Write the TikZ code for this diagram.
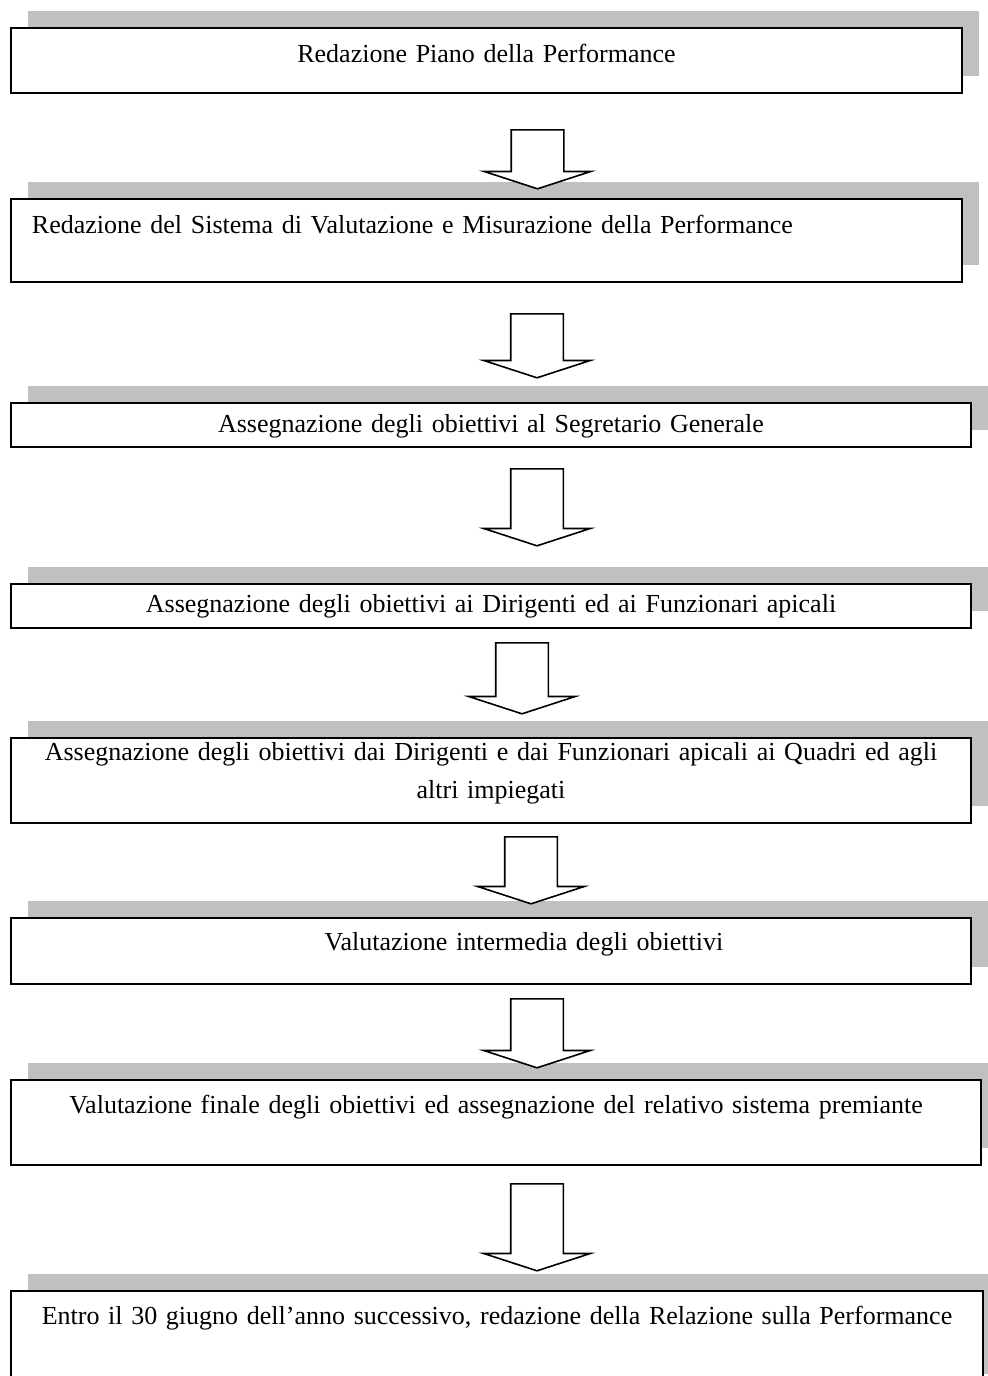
\documentclass[tikz,border=0pt]{standalone}
\usepackage{fontspec}
\setmainfont{Liberation Serif}
\usetikzlibrary{shapes.arrows,shadows}
\definecolor{shadegray}{HTML}{C0C0C0}
\tikzset{
  stepbox/.style={draw, line width=1pt, fill=white, inner sep=0pt, anchor=north west, align=center,
    font=\fontsize{13pt}{19pt}\selectfont,
    drop shadow={shadow xshift=8.5pt, shadow yshift=8.5pt, fill=shadegray, opacity=1}},
  downarrow/.style={single arrow, draw, line width=0.8pt, fill=white, rotate=-90, anchor=tail,
    inner xsep=0pt, inner ysep=12.75pt, single arrow head extend=13.5pt, single arrow tip angle=144}
}

\begin{document}
\begin{tikzpicture}[x=0.5pt, y=-0.5pt]
\useasboundingbox (0,0) rectangle (987,1376);
\node[stepbox, text width=475.5pt, text height=17pt, text depth=15.5pt] at (10, 27) (b1) {Redazione Piano della Performance};
\node[stepbox, align=left, inner xsep=10.5pt, text width=454.5pt, text height=17pt, text depth=24.5pt] at (10, 198) (b2) {Redazione del Sistema di Valutazione e Misurazione della Performance};
\node[stepbox, text width=480pt, text height=14.5pt, text depth=7.5pt] at (10, 402) (b3) {Assegnazione degli obiettivi al Segretario Generale};
\node[stepbox, text width=480pt, text height=14pt, text depth=8pt] at (10, 583) (b4) {Assegnazione degli obiettivi ai Dirigenti ed ai Funzionari apicali};
\node[stepbox, text width=480pt, text height=11pt, text depth=31.5pt] at (10, 737) (b5) {Assegnazione degli obiettivi dai Dirigenti e dai Funzionari apicali ai Quadri ed agli\\ altri impiegati};
\node[stepbox, text width=480pt, text height=16.25pt, text depth=16.75pt] at (10, 917) (b6) {\hspace*{33pt}Valutazione intermedia degli obiettivi};
\node[stepbox, text width=485pt, text height=16.75pt, text depth=25.75pt] at (10, 1079) (b7) {Valutazione finale degli obiettivi ed assegnazione del relativo sistema premiante};
\node[stepbox, text width=486pt, text height=16.75pt, text depth=33.25pt] at (10, 1290) (b8) {Entro il 30 giugno dell’anno successivo, redazione della Relazione sulla Performance};
% frecce tra i passi
\node[downarrow, minimum height=29.5pt] at (537.5, 129) (a1) {};
\node[downarrow, minimum height=32pt] at (537, 313) (a2) {};
\node[downarrow, minimum height=38.5pt] at (537, 468) (a3) {};
\node[downarrow, minimum height=35.5pt] at (522, 642) (a4) {};
\node[downarrow, minimum height=33.5pt] at (531, 836) (a5) {};
\node[downarrow, minimum height=34.5pt] at (537, 998) (a6) {};
\node[downarrow, minimum height=43.5pt] at (537, 1183) (a7) {};
\end{tikzpicture}
\end{document}
